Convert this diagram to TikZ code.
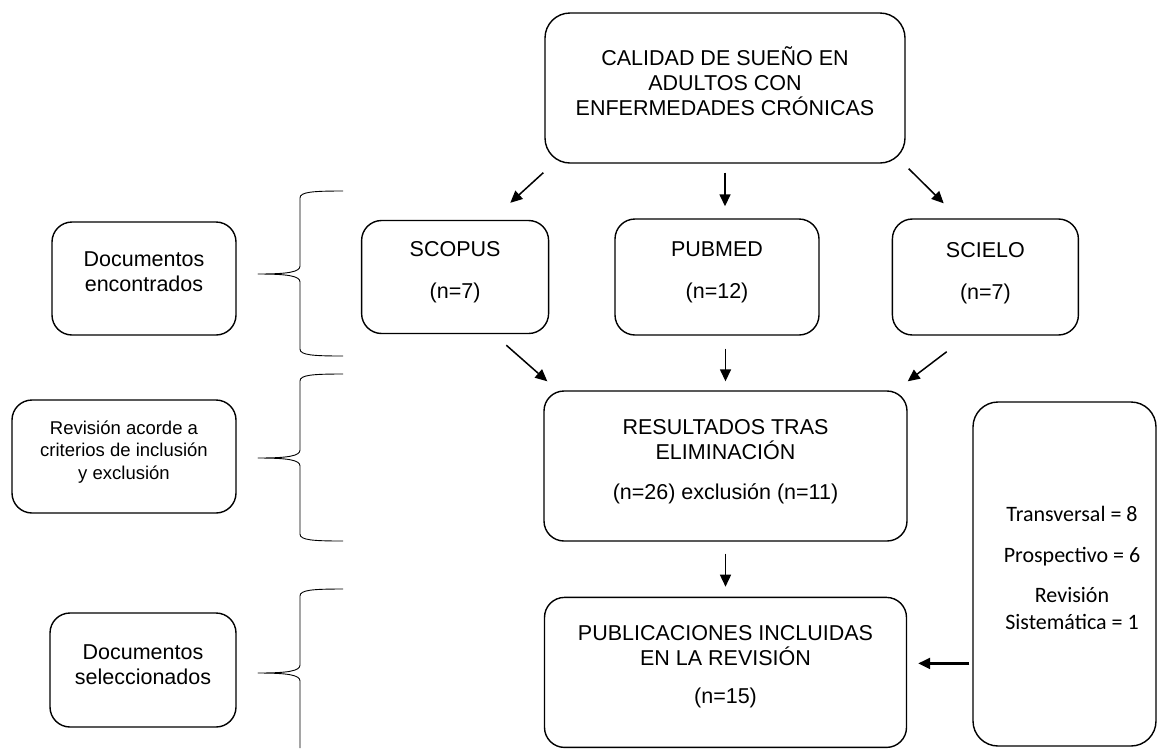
\documentclass[tikz,border=0pt]{standalone}
\usepackage{fontspec}
\setmainfont{Liberation Sans}
\newfontfamily\calibri{Carlito}
\usepackage{tikz}
\usetikzlibrary{arrows.meta,positioning}
\tikzset{>/.tip={Triangle[length=12pt,width=11pt]}}
\tikzset{caja/.style={draw,line width=1.4pt,rounded corners=20pt,align=center,inner sep=0pt,font=\fontsize{21.5}{25}\selectfont}}
\tikzset{flecha/.style={->,line width=1.5pt}}
\tikzset{llave/.style={line width=0.9pt,line join=round}}
\def\llave#1#2#3{\draw[llave] (343,#1) .. controls (312,#1) and (300,#1+1) .. (300,#1+7) -- (300,#2-8)
  .. controls (300,#2-2) and (288,#2) .. (258,#2) .. controls (288,#2) and (300,#2+2) .. (300,#2+8)
  -- (300,#3-7) .. controls (300,#3-1) and (312,#3) .. (343,#3);}

\begin{document}
\begin{tikzpicture}[x=1pt,y=-1pt]
        \useasboundingbox (0,0) rectangle (1158,748);
        % columna central
        \node(top)[caja,rounded corners=25pt,minimum width=360pt,minimum height=150pt] at (725,88)
          {CALIDAD DE SUEÑO EN\\ADULTOS CON\\ENFERMEDADES CRÓNICAS\\[-11pt]};
        \node(pubmed)[caja,minimum width=204pt,minimum height=116pt] at (717,277) {PUBMED\\[17pt](n=12)\\[-12pt]};
        \node(scopus)[caja,minimum width=187pt,minimum height=113pt,left=65pt of pubmed] {SCOPUS\\[17pt](n=7)\\[-11pt]};
        \node(scielo)[caja,minimum width=186pt,minimum height=116pt,right=72pt of pubmed] {SCIELO\\[17pt](n=7)\\[-12pt]};
        \node(res)[caja,minimum width=363pt,minimum height=150pt] at (725.5,466)
          {RESULTADOS TRAS\\ELIMINACIÓN\\[15pt](n=26) exclusión (n=11)\\[-12pt]};
        \node(pub)[caja,minimum width=362pt,minimum height=150pt,below=55pt of res]
          {PUBLICACIONES INCLUIDAS\\EN LA REVISIÓN\\[13pt](n=15)\\[-10pt]};
        \node(tipos)[caja,rounded corners=25pt,minimum width=183pt,minimum height=344pt,
          font=\calibri\fontsize{22}{27}\selectfont] at (1064.5,574)
          {\hspace*{15pt}Transversal = 8\\[14pt]\hspace*{15pt}Prospectivo = 6\\[13pt]\hspace*{15pt}Revisión\\\hspace*{15pt}Sistemática = 1\\[-14pt]};
        % etapas
        \node(enc)[caja,minimum width=184pt,minimum height=113pt] at (144,278.5) {Documentos\\encontrados\\[-12pt]};
        \node(rev)[caja,minimum width=224pt,minimum height=113pt,font=\fontsize{18.5}{22.5}\selectfont] at (124,456.5)
          {Revisión acorde a\\criterios de inclusión\\y exclusión\\[-9pt]};
        \node(sel)[caja,minimum width=186pt,minimum height=114pt] at (143,670) {Documentos\\seleccionados\\[-14pt]};
        % flechas
        \draw[flecha] ([shift={(-1pt,-9pt)}]top.south west) -- ([shift={(-39pt,17pt)}]scopus.north east);
        \draw[flecha] ([yshift=-9pt]top.south) -- ([yshift=12pt]top.south |- pubmed.north);
        \draw[flecha] ([shift={(3pt,-5pt)}]top.south east) -- ([shift={(52pt,15pt)}]scielo.north west);
        \draw[flecha] ([shift={(-43pt,-11pt)}]scopus.south east) -- ([shift={(4pt,9pt)}]res.north west);
        \draw[flecha] ([yshift=-13pt]res.north |- pubmed.south) -- ([yshift=9pt]res.north);
        \draw[flecha] ([shift={(55pt,-16pt)}]scielo.south west) -- ([shift={(0pt,9pt)}]res.north east);
        \draw[flecha] ([yshift=-12pt]res.south) -- ([yshift=10pt]pub.north);
        \draw[flecha,line width=2.2pt] ([shift={(-3pt,9pt)}]tipos.west |- pub.east) -- ([shift={(11pt,9pt)}]pub.east);
        % llaves
        \llave{191}{274}{356}
        \llave{374}{458}{541}
        \draw[llave] (343,589) .. controls (312,589) and (300,590) .. (300,596) -- (300,665)
          .. controls (300,671) and (288,673) .. (258,673) .. controls (288,673) and (300,675) .. (300,681) -- (300,748);
\end{tikzpicture}
\end{document}
